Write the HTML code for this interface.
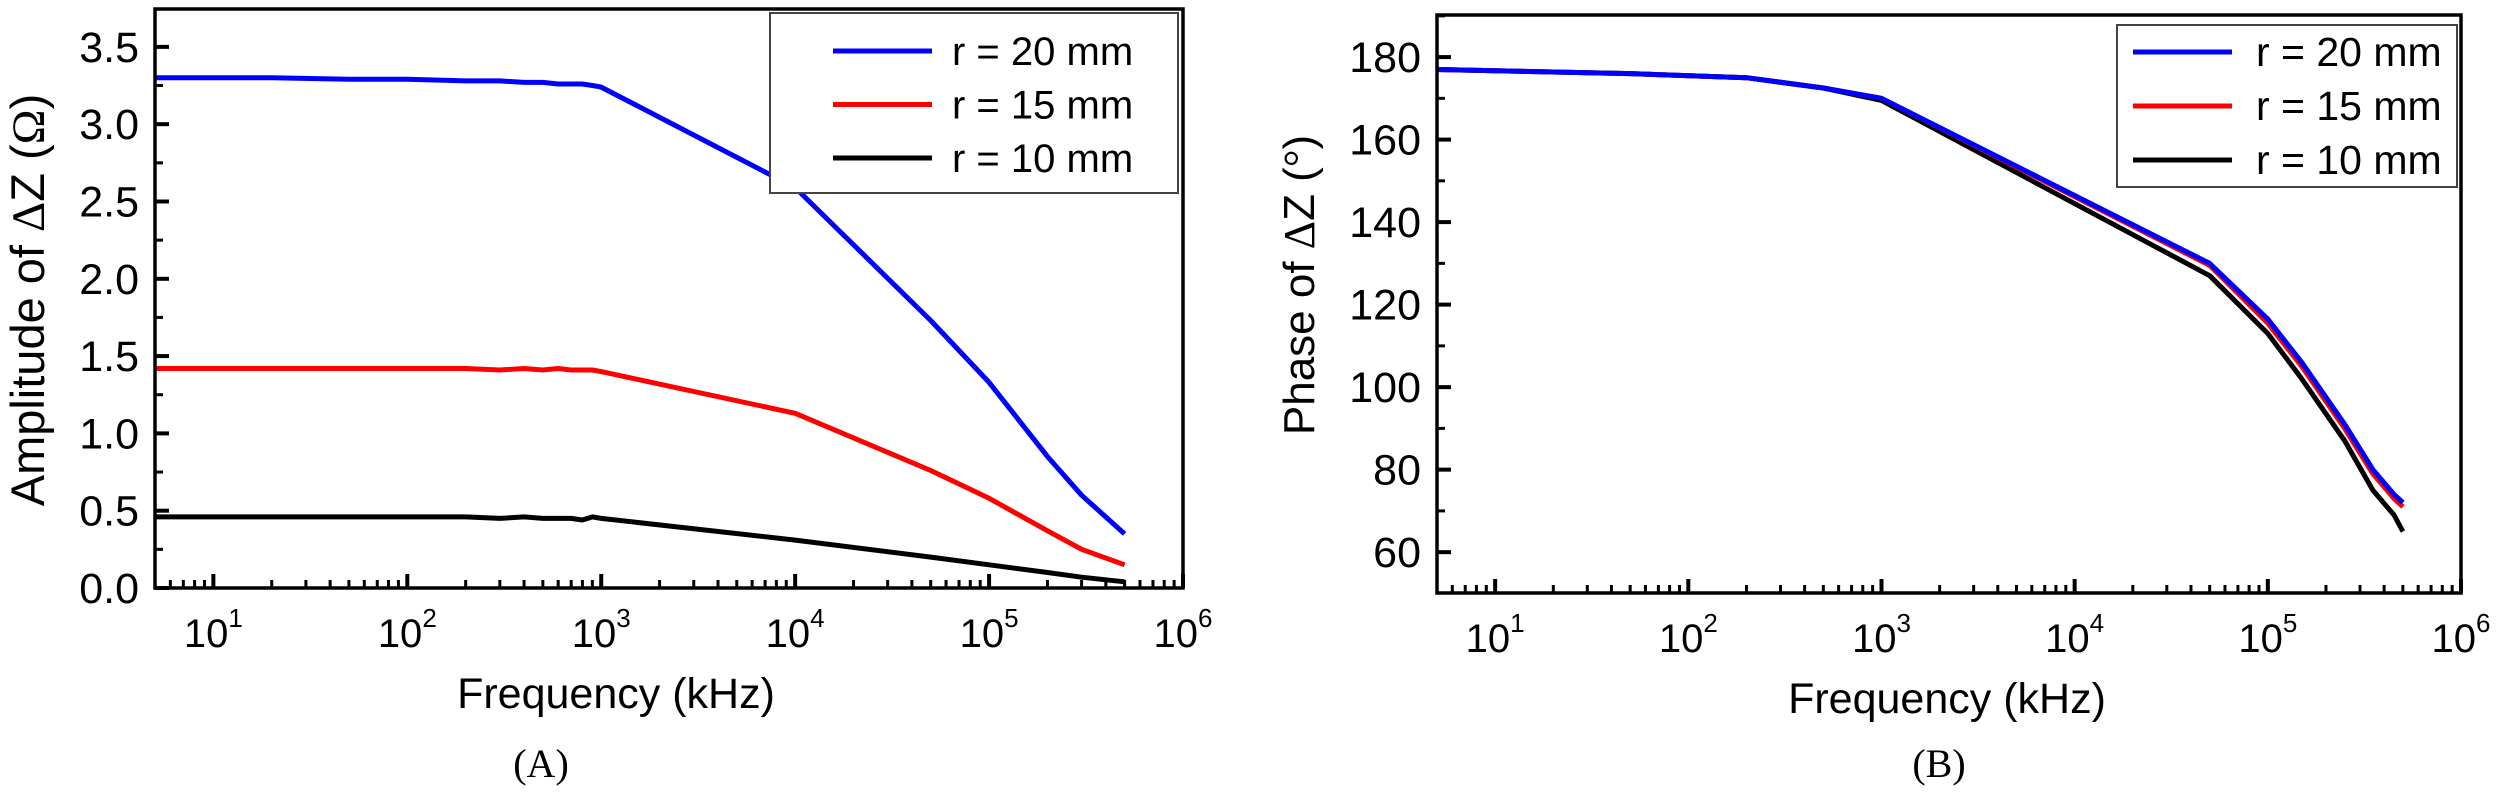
<!DOCTYPE html>
<html><head><meta charset="utf-8"><style>
html,body{margin:0;padding:0;background:#fff}
svg{display:block}
text{font-family:"Liberation Sans",sans-serif;fill:#000}
</style></head><body>
<svg id="fig" width="2500" height="794" viewBox="0 0 2500 794" xmlns="http://www.w3.org/2000/svg"></svg>
<script>
// ---- Data ----
const freqA = [5, 20, 50, 100, 200, 300, 400, 500, 600, 700, 800, 900, 1000, 10000, 50000, 100000, 200000, 300000, 500000];
const ampBlue = [3.30, 3.30, 3.29, 3.29, 3.28, 3.28, 3.27, 3.27, 3.26, 3.26, 3.26, 3.25, 3.24, 2.59, 1.73, 1.33, 0.85, 0.60, 0.35];
const ampRed = [1.42, 1.42, 1.42, 1.42, 1.42, 1.41, 1.42, 1.41, 1.42, 1.41, 1.41, 1.41, 1.40, 1.13, 0.76, 0.58, 0.37, 0.25, 0.15];
const ampBlack = [0.46, 0.46, 0.46, 0.46, 0.46, 0.45, 0.46, 0.45, 0.45, 0.45, 0.44, 0.46, 0.45, 0.31, 0.20, 0.15, 0.10, 0.07, 0.04];
const freqB = [5, 50, 200, 500, 1000, 50000, 100000, 150000, 250000, 350000, 450000, 500000];
const phaseBlue = [177, 176, 175, 172.5, 170, 130, 116.5, 106, 91, 80, 74, 72];
const phaseRed = [177, 176, 175, 172.5, 170, 129.5, 115.5, 105, 90, 79, 73, 71];
const phaseBlack = [177, 176, 175, 172.5, 169.5, 127, 113, 102, 87, 75, 69, 65];
const ampTicks = [0, 0.5, 1.0, 1.5, 2.0, 2.5, 3.0, 3.5];
const phaseTicks = [60, 80, 100, 120, 140, 160, 180];
const decadeTicks = [1, 2, 3, 4, 5, 6];
const legendLabels = ["r = 20 mm", "r = 15 mm", "r = 10 mm"];
const seriesColors = ["#0000ff", "#ff0000", "#000000"];

const NS = "http://www.w3.org/2000/svg";
const svg = document.getElementById("fig");
function mk(tag, attrs, parent, txt){
  const e = document.createElementNS(NS, tag);
  for (const k in attrs) e.setAttribute(k, attrs[k]);
  if (txt !== undefined) e.textContent = txt;
  (parent || svg).appendChild(e);
  return e;
}

function panel(cfg){
  const g = mk("g", {});
  
  
  const {L, R, T, B, xmin, xmax, ymin, ymax} = cfg;
  const lx0 = Math.log10(xmin), lx1 = Math.log10(xmax);
  const X = f => L + (Math.log10(f) - lx0) / (lx1 - lx0) * (R - L);
  const Y = v => B - (v - ymin) / (ymax - ymin) * (B - T);
  for (let i = cfg.series.length - 1; i >= 0; i--) {
    const s = cfg.series[i];
    const d = cfg.freq.map((f, j) => (j ? "L" : "M") + X(f).toFixed(1) + "," + Y(s[j]).toFixed(1)).join(" ");
    const p = mk("path", {d, fill: "none", stroke: seriesColors[i], "stroke-width": 5, "stroke-linejoin": "round"}, g);
    
    
  }
  const fr = mk("rect", {x: L, y: T, width: R - L, height: B - T, fill: "none", stroke: "#000", "stroke-width": 3.5}, g);
  
  
  cfg.yticks.forEach((v) => {
    const y = Y(v);
    const t = mk("line", {x1: L, x2: L + 14, y1: y, y2: y, stroke: "#000", "stroke-width": 4}, g);
    
    
    const lab = mk("text", {x: L - 16, y: y + 15, "text-anchor": "end", "font-size": 43}, g, cfg.yfmt(v));
    
    
    const vm = v + (cfg.yticks[1] - cfg.yticks[0]) / 2;
    if (vm < ymax) {
      const ym = Y(vm);
      const m = mk("line", {x1: L, x2: L + 8, y1: ym, y2: ym, stroke: "#000", "stroke-width": 3}, g);
      
      
    }
  });
  for (let e = 0; e <= 6; e++) {
    for (let k = 1; k <= 9; k++) {
      const f = k * Math.pow(10, e);
      if (f < xmin || f > xmax) continue;
      const x = X(f);
      const major = k === 1;
      const t = mk("line", {x1: x, x2: x, y1: B, y2: B - (major ? 14 : 8), stroke: "#000", "stroke-width": major ? 4 : 3}, g);
      
      
    }
  }
  decadeTicks.forEach(p => {
    const x = X(Math.pow(10, p));
    const lab = mk("text", {x: x, y: B + 59, "text-anchor": "middle", "font-size": 40}, g);
    
    
    mk("tspan", {}, lab, "10");
    mk("tspan", {dy: -20, "font-size": 26}, lab, String(p));
  });
  const xt = mk("text", {x: cfg.xtx, y: B + 120, "text-anchor": "middle", "font-size": 43}, g, "Frequency (kHz)");
  
  
  const yt = mk("text", {x: cfg.ytx, y: cfg.yty, "text-anchor": "middle", "font-size": cfg.ytsize, transform: `rotate(-90 ${cfg.ytx} ${cfg.yty})`}, g);
  
  
  cfg.ytitle.forEach(([s, serif]) => mk("tspan", serif ? {style: "font-family:'Liberation Serif',serif"} : {}, yt, s));
  const cap = mk("text", {x: cfg.capx, y: 777, "text-anchor": "middle", "font-size": 40, style: "font-family:'Liberation Serif',serif"}, g, cfg.caption);
  
  
  const lg = mk("g", {}, g);
  
  
  const lb = cfg.legend;
  mk("rect", {x: lb.x, y: lb.y, width: lb.w, height: lb.h, fill: "#fff", stroke: "#444", "stroke-width": 2}, lg);
  legendLabels.forEach((s, i) => {
    const ent = mk("g", {}, lg);
    
    
    const yy = lb.y + lb.r0 + i * lb.dy;
    mk("line", {x1: lb.lx, x2: lb.lx + 99, y1: yy, y2: yy, stroke: seriesColors[i], "stroke-width": 5}, ent);
    mk("text", {x: lb.tx, y: yy + 14, "font-size": lb.fs}, ent, s);
  });
}

panel({name: "amplitude-chart", L: 155, R: 1183, T: 9, B: 588, xmin: 5, xmax: 1e6, ymin: 0, ymax: 3.745,
  freq: freqA, series: [ampBlue, ampRed, ampBlack], yticks: ampTicks, yfmt: v => v.toFixed(1),
  ytitle: [["Amplitude of ", false], ["\u0394", true], ["Z (", false], ["\u03A9", true], [")", false]],
  ytsize: 47, ytx: 44, yty: 300, xtx: 616, capx: 541, caption: "(A)",
  legend: {x: 770, y: 13, w: 408, h: 180, r0: 38, dy: 53.5, lx: 833, tx: 952, fs: 40}});
panel({name: "phase-chart", L: 1437, R: 2461, T: 15, B: 593, xmin: 5, xmax: 1e6, ymin: 50.1, ymax: 190.2,
  freq: freqB, series: [phaseBlue, phaseRed, phaseBlack], yticks: phaseTicks, yfmt: v => String(v),
  ytitle: [["Phase of ", false], ["\u0394", true], ["Z (", false], ["\u00B0", true], [")", false]],
  ytsize: 44, ytx: 1314, yty: 285, xtx: 1947, capx: 1939, caption: "(B)",
  legend: {x: 2117, y: 25, w: 340, h: 162, r0: 27, dy: 54, lx: 2133, tx: 2256, fs: 41}});
</script>
</body></html>
